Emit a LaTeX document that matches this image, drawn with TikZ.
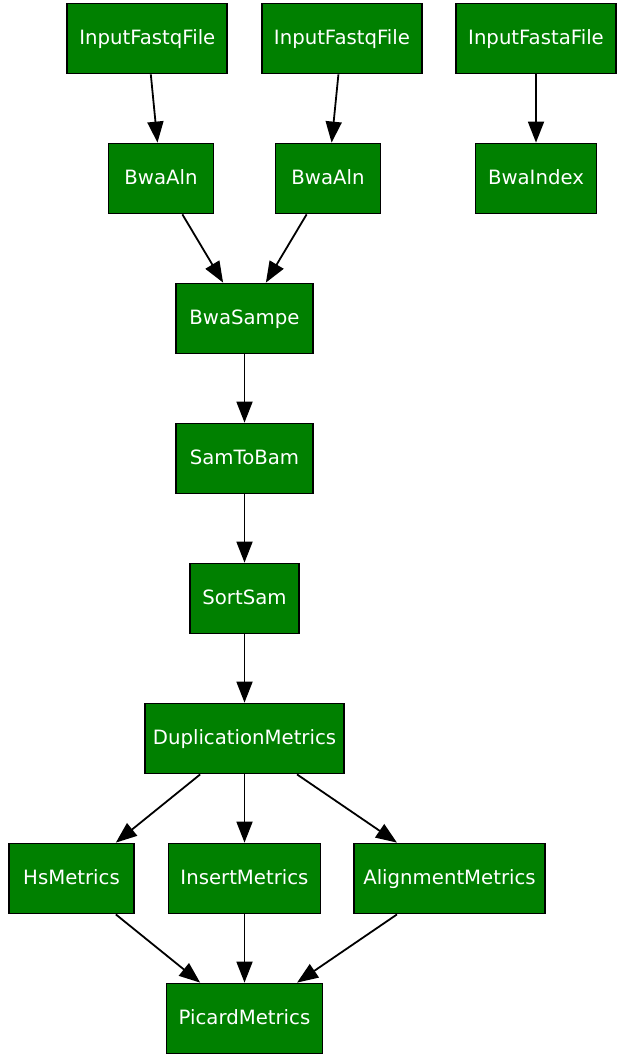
\documentclass[tikz,border=0pt]{standalone}
\usepackage{fontspec}
\setmainfont{DejaVu Sans}
\usetikzlibrary{arrows.meta}
\definecolor{gvgreen}{RGB}{0,128,0}
\tikzset{
  box/.style={draw=black, line width=1.8pt, fill=gvgreen, text=white,
    minimum height=70pt, inner sep=0pt, text height=14.3pt, text depth=1.6pt,
    font=\fontsize{19.7pt}{22pt}\selectfont},
  conn/.style={draw=black, line width=1.8pt, -{Triangle[length=21pt,width=16pt]}}
}
\begin{document}
\begin{tikzpicture}[x=1pt,y=-1pt]
\useasboundingbox (0,0) rectangle (633,1057);
\node[box, minimum width=160pt] (ifq1) at (147.3,38.5) {InputFastqFile};
\node[box, minimum width=160pt] (ifq2) at (342,38.5) {InputFastqFile};
\node[box, minimum width=160pt] (ifa) at (536,38.5) {InputFastaFile};
\node[box, minimum width=105pt] (aln1) at (161,178.5) {BwaAln};
\node[box, minimum width=105pt] (aln2) at (328,178.5) {BwaAln};
\node[box, minimum width=121pt] (idx) at (536,178.5) {BwaIndex};
\node[box, minimum width=137pt] (sampe) at (244.5,318.5) {BwaSampe};
\node[box, minimum width=137pt] (s2b) at (244.5,458.5) {SamToBam};
\node[box, minimum width=109pt] (sort) at (244.5,598.5) {SortSam};
\node[box, minimum width=199pt] (dup) at (244.5,738.5) {DuplicationMetrics};
\node[box, minimum width=125pt] (hs) at (71.5,878.5) {HsMetrics};
\node[box, minimum width=152pt] (ins) at (244.5,878.5) {InsertMetrics};
\node[box, minimum width=191pt] (aln) at (449.5,878.5) {AlignmentMetrics};
\node[box, minimum width=156pt] (pic) at (244.5,1018.5) {PicardMetrics};
\draw[conn] (ifq1) -- (aln1);
\draw[conn] (ifq2) -- (aln2);
\draw[conn] (ifa) -- (idx);
\draw[conn] (aln1) -- (sampe);
\draw[conn] (aln2) -- (sampe);
\draw[conn] (sampe) -- (s2b);
\draw[conn] (s2b) -- (sort);
\draw[conn] (sort) -- (dup);
\draw[conn] (dup) -- (hs);
\draw[conn] (dup) -- (ins);
\draw[conn] (dup) -- (aln);
\draw[conn] (hs) -- (pic);
\draw[conn] (ins) -- (pic);
\draw[conn] (aln) -- (pic);
\end{tikzpicture}
\end{document}
